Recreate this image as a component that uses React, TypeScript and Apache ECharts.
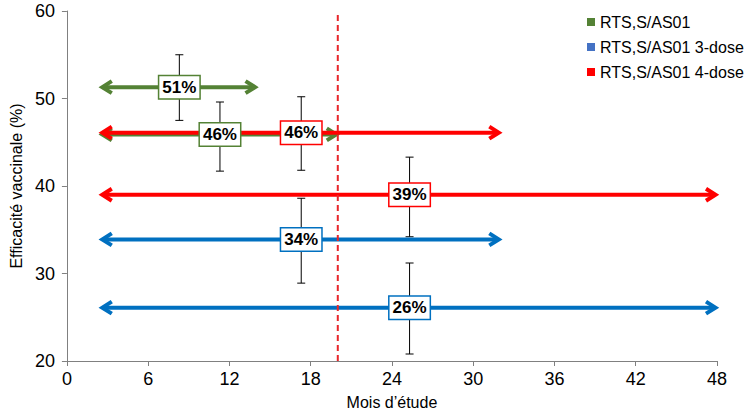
import React, { useEffect, useRef } from "react";
import * as echarts from "echarts";

// Series groups (legend)
const groupNames = ["RTS,S/AS01", "RTS,S/AS01 3-dose", "RTS,S/AS01 4-dose"];
const legendColors = ["#548235", "#4472C4", "#FF0000"];
const lineColors = ["#548235", "#0070C0", "#FF0000"];

// Follow-up periods (arrows), per group
const greenStart = [2.5, 2.5];
const greenEnd = [14, 20];
const greenEfficacy = [51.3, 45.9];
const blueStart = [2.5, 2.5];
const blueEnd = [32, 48];
const blueEfficacy = [33.9, 26.1];
const redStart = [2.5, 2.5];
const redEnd = [32, 48];
const redEfficacy = [46.1, 39.0];

// Confidence intervals (error bars) and their labels
const ciMonth = [8.3, 11.3, 17.3, 25.3, 17.3, 25.3];
const ciLow = [47.5, 41.7, 41.8, 34.2, 28.9, 20.8];
const ciHigh = [55.0, 49.6, 50.2, 43.3, 38.6, 31.2];
const ciValue = [51.3, 45.9, 46.1, 39.0, 33.9, 26.1];
const ciLabels = ["51%", "46%", "46%", "39%", "34%", "26%"];
const ciGroup = [0, 0, 2, 2, 1, 1];

// Vertical marker
const markerMonth = 20;

// Axes
const xTicks = [0, 6, 12, 18, 24, 30, 36, 42, 48];
const yTicks = [20, 30, 40, 50, 60];

const FONT = "'Liberation Sans', Arial, sans-serif";

function arrowRender(color: string) {
  return (params: any, api: any) => {
    const s = api.coord([api.value(0), api.value(2)]);
    const e = api.coord([api.value(1), api.value(2)]);
    const y = s[1];
    const hl = 11;
    const hw = 6;
    const lw = 4;
    return {
      type: "group",
      children: [
        {
          type: "line",
          shape: { x1: s[0] + 2, y1: y, x2: e[0] - 2, y2: y },
          style: { stroke: color, lineWidth: lw },
        },
        {
          type: "polyline",
          shape: { points: [[s[0] + hl, y - hw], [s[0] + 1.5, y], [s[0] + hl, y + hw]] },
          style: { stroke: color, lineWidth: lw, fill: null, lineJoin: "miter" },
        },
        {
          type: "polyline",
          shape: { points: [[e[0] - hl, y - hw], [e[0] - 1.5, y], [e[0] - hl, y + hw]] },
          style: { stroke: color, lineWidth: lw, fill: null, lineJoin: "miter" },
        },
      ],
    };
  };
}

function buildArrowData(start: number[], end: number[], eff: number[]) {
  return start.map((s, i) => [s, end[i], eff[i]]);
}

export default function App() {
  const ref = useRef<HTMLDivElement>(null);
  useEffect(() => {
    if (!ref.current) return;
    const chart = echarts.init(ref.current, undefined, { renderer: "svg" });

    const errData = ciMonth.map((m, i) => [m, ciLow[i], ciHigh[i]]);
    const labelData = ciMonth.map((m, i) => [m, ciValue[i]]);

    const axisColor = "#808080";

    const option: any = {
      animation: false,
      backgroundColor: "#ffffff",
      grid: { left: 60, right: 31, top: 11, bottom: 56, containLabel: false },
      legend: {
        data: groupNames,
        orient: "vertical",
        left: 582,
        top: 9,
        icon: "rect",
        itemWidth: 8,
        itemHeight: 8,
        itemGap: 9,
        selectedMode: false,
        textStyle: { fontSize: 16, fontFamily: FONT, color: "#000" },
      },
      xAxis: {
        type: "value",
        min: xTicks[0],
        max: xTicks[xTicks.length - 1],
        interval: xTicks[1] - xTicks[0],
        name: "Mois d’étude",
        nameLocation: "middle",
        nameGap: 33,
        nameTextStyle: { fontSize: 16, fontFamily: FONT, color: "#000" },
        axisLine: { show: true, lineStyle: { color: axisColor, width: 1 } },
        axisTick: { show: true, length: 5, lineStyle: { color: axisColor } },
        axisLabel: { fontSize: 18, fontFamily: FONT, color: "#000", margin: 9 },
        splitLine: { show: false },
      },
      yAxis: {
        type: "value",
        min: yTicks[0],
        max: yTicks[yTicks.length - 1],
        interval: yTicks[1] - yTicks[0],
        name: "Efficacité vaccinale (%)",
        nameLocation: "middle",
        nameGap: 42,
        nameTextStyle: { fontSize: 16, fontFamily: FONT, color: "#000" },
        axisLine: { show: true, lineStyle: { color: axisColor, width: 1 } },
        axisTick: { show: true, length: 5, lineStyle: { color: axisColor } },
        axisLabel: { fontSize: 18, fontFamily: FONT, color: "#000", margin: 12 },
        splitLine: { show: false },
      },
      series: [
        {
          type: "custom",
          name: "ci",
          coordinateSystem: "cartesian2d",
          encode: { x: 0, y: [1, 2] },
          data: errData,
          z: 2,
          renderItem: (params: any, api: any) => {
            const lo = api.coord([api.value(0), api.value(1)]);
            const hi = api.coord([api.value(0), api.value(2)]);
            const cw = 4;
            const st = { stroke: "#000", lineWidth: 1 };
            return {
              type: "group",
              children: [
                { type: "line", shape: { x1: lo[0], y1: lo[1], x2: hi[0], y2: hi[1] }, style: st },
                { type: "line", shape: { x1: lo[0] - cw, y1: lo[1], x2: lo[0] + cw, y2: lo[1] }, style: st },
                { type: "line", shape: { x1: hi[0] - cw, y1: hi[1], x2: hi[0] + cw, y2: hi[1] }, style: st },
              ],
            };
          },
        },
        {
          type: "custom",
          name: groupNames[0],
          coordinateSystem: "cartesian2d",
          encode: { x: [0, 1], y: 2 },
          itemStyle: { color: legendColors[0] },
          data: buildArrowData(greenStart, greenEnd, greenEfficacy),
          z: 3,
          renderItem: arrowRender(lineColors[0]),
        },
        {
          type: "custom",
          name: groupNames[1],
          coordinateSystem: "cartesian2d",
          encode: { x: [0, 1], y: 2 },
          itemStyle: { color: legendColors[1] },
          data: buildArrowData(blueStart, blueEnd, blueEfficacy),
          z: 3,
          renderItem: arrowRender(lineColors[1]),
        },
        {
          type: "custom",
          name: groupNames[2],
          coordinateSystem: "cartesian2d",
          encode: { x: [0, 1], y: 2 },
          itemStyle: { color: legendColors[2] },
          data: buildArrowData(redStart, redEnd, redEfficacy),
          z: 4,
          renderItem: arrowRender(lineColors[2]),
        },
        {
          type: "line",
          name: "marker",
          data: [
            [markerMonth, yTicks[0]],
            [markerMonth, yTicks[yTicks.length - 1]],
          ],
          symbol: "none",
          z: 5,
          lineStyle: { color: "#E8262A", width: 2, type: [6, 4] },
        },
        {
          type: "custom",
          name: "labels",
          coordinateSystem: "cartesian2d",
          encode: { x: 0, y: 1 },
          data: labelData,
          z: 6,
          renderItem: (params: any, api: any) => {
            const p = api.coord([api.value(0), api.value(1)]);
            const i = params.dataIndex;
            return {
              type: "text",
              x: p[0],
              y: p[1],
              style: {
                text: ciLabels[i],
                align: "center",
                verticalAlign: "middle",
                font: "bold 17px " + FONT,
                fill: "#000",
                backgroundColor: "#fff",
                borderColor: lineColors[ciGroup[i]],
                borderWidth: 1.5,
                padding: [3, 3, 2, 3],
              },
            };
          },
        },
      ],
    };
    chart.setOption(option);
    return () => chart.dispose();
  }, []);

  return (
    <div
      ref={ref}
      style={{ position: "fixed", left: 0, top: 0, width: 748, height: 417 }}
    />
  );
}
